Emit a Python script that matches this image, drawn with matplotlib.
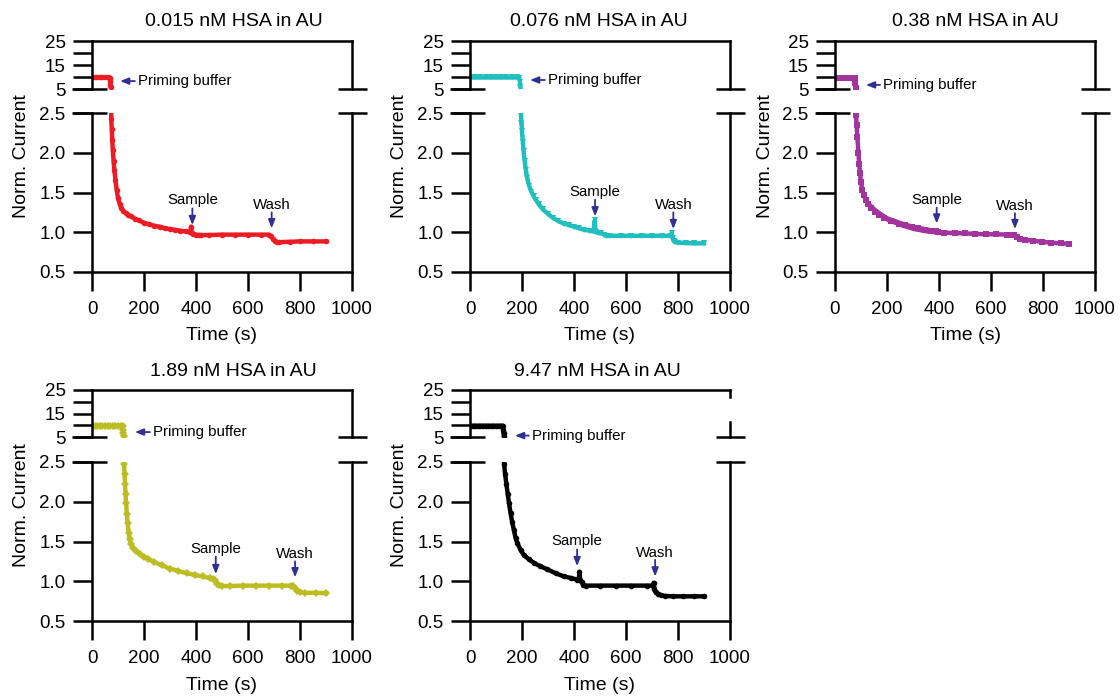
import matplotlib
matplotlib.use('Agg')
import matplotlib.pyplot as plt

plt.rcParams['font.family'] = ['Liberation Sans', 'DejaVu Sans']

# ---- data (time in s, normalised current) ----
titles = ['0.015 nM HSA in AU', '0.076 nM HSA in AU', '0.38 nM HSA in AU',
          '1.89 nM HSA in AU', '9.47 nM HSA in AU']
colors_ = ['#ec1c24', '#20bfbf', '#a3349e', '#bcbd22', '#000000']
markers = ['o', 'v', 's', 'D', 'o']

t_red = [0, 10, 20, 30, 40, 50, 60, 68, 70, 71, 72, 74, 76, 78, 80, 83, 86, 90, 95, 100,
         106, 112, 120, 130, 140, 150, 165, 180, 200, 220, 240, 260, 280, 300, 320, 340,
         360, 375, 379, 381, 383, 390, 400, 410, 420, 450, 500, 550, 600, 650, 680, 688,
         695, 702, 710, 720, 760, 800, 850, 900]
y_red = [9.8, 9.8, 9.9, 9.8, 9.8, 9.8, 9.8, 9.7, 8.2, 6.8, 5.7, 2.42, 2.30, 2.16, 2.03,
         1.90, 1.78, 1.66, 1.53, 1.43, 1.36, 1.31, 1.27, 1.24, 1.22, 1.20, 1.17, 1.15,
         1.12, 1.10, 1.08, 1.07, 1.05, 1.04, 1.03, 1.02, 1.01, 1.00, 1.00, 1.07, 0.99,
         0.98, 0.97, 0.965, 0.965, 0.965, 0.97, 0.97, 0.97, 0.97, 0.97, 0.95, 0.92, 0.89,
         0.875, 0.875, 0.88, 0.885, 0.885, 0.885]

t_cyan = [0, 20, 40, 60, 80, 100, 120, 140, 160, 180, 190, 192, 194, 196, 198, 200, 203,
          206, 210, 215, 220, 228, 236, 245, 255, 265, 280, 300, 320, 340, 360, 380, 400,
          420, 440, 460, 475, 480, 482, 486, 495, 505, 515, 525, 540, 580, 620, 660, 700,
          740, 772, 776, 779, 783, 790, 800, 830, 860, 900]
y_cyan = [9.8, 9.8, 9.8, 9.8, 9.8, 9.8, 9.8, 9.8, 9.8, 9.8, 9.7, 8.0, 6.0, 2.48, 2.38,
          2.27, 2.14, 2.02, 1.90, 1.78, 1.68, 1.58, 1.51, 1.45, 1.40, 1.35, 1.29, 1.23,
          1.18, 1.14, 1.11, 1.09, 1.07, 1.05, 1.03, 1.02, 1.01, 1.15, 1.01, 1.00, 0.99,
          0.99, 0.97, 0.955, 0.955, 0.955, 0.955, 0.955, 0.955, 0.955, 0.955, 0.99, 0.93,
          0.89, 0.875, 0.87, 0.865, 0.86, 0.86]

t_purple = [0, 10, 20, 30, 40, 50, 60, 70, 76, 78, 80, 81, 83, 86, 90, 93, 96, 100, 105,
            110, 118, 128, 140, 154, 170, 190, 215, 245, 270, 295, 320, 346, 370, 390, 396,
            420, 460, 500, 540, 580, 620, 660, 680, 690, 700, 712, 730, 760, 795, 830, 870,
            900]
y_purple = [9.6, 9.6, 9.6, 9.6, 9.6, 9.6, 9.6, 9.6, 9.6, 7.5, 5.6, 2.47, 2.35, 2.20, 2.00,
            1.86, 1.74, 1.63, 1.53, 1.47, 1.41, 1.36, 1.31, 1.26, 1.22, 1.18, 1.14, 1.11,
            1.09, 1.07, 1.05, 1.03, 1.02, 1.01, 1.00, 0.995, 0.99, 0.985, 0.98, 0.975,
            0.975, 0.97, 0.97, 0.96, 0.94, 0.915, 0.905, 0.895, 0.88, 0.87, 0.86, 0.855]
# noisy spread of the purple trace before the sample step
t_purple_band = [110, 130, 160, 200, 250, 300, 350, 380, 395]
lo_purple_band = [1.45, 1.33, 1.23, 1.14, 1.07, 1.02, 0.99, 0.98, 0.98]
hi_purple_band = [1.49, 1.39, 1.30, 1.21, 1.15, 1.10, 1.07, 1.05, 1.03]

t_yellow = [0, 10, 20, 30, 40, 50, 60, 70, 80, 90, 100, 110, 118, 120, 121, 122, 123, 125,
            127, 129, 131, 134, 137, 141, 145, 150, 158, 170, 185, 200, 217, 240, 268, 300,
            332, 365, 396, 425, 454, 465, 472, 480, 490, 500, 530, 580, 630, 680, 730, 765,
            772, 780, 790, 800, 820, 860, 900]
y_yellow = [9.7, 9.7, 9.7, 9.7, 9.7, 9.7, 9.7, 9.7, 9.7, 9.7, 9.7, 9.7, 9.7, 8.0, 6.5, 5.6,
            2.48, 2.35, 2.22, 2.10, 1.98, 1.85, 1.73, 1.61, 1.53, 1.47, 1.42, 1.38, 1.34,
            1.31, 1.28, 1.24, 1.20, 1.16, 1.13, 1.10, 1.08, 1.06, 1.04, 1.03, 1.01, 0.97,
            0.95, 0.94, 0.94, 0.945, 0.945, 0.945, 0.945, 0.945, 0.94, 0.91, 0.88, 0.86,
            0.855, 0.855, 0.85]

t_black = [0, 10, 20, 30, 40, 50, 60, 70, 80, 90, 100, 110, 120, 126, 128, 129, 130, 131,
           135, 140, 145, 150, 156, 162, 169, 175, 182, 195, 207, 225, 246, 270, 297, 330,
           361, 390, 412, 418, 421, 424, 430, 436, 445, 500, 560, 620, 680, 703, 706, 709,
           714, 722, 735, 750, 780, 820, 860, 900]
y_black = [9.8, 9.8, 9.8, 9.8, 9.8, 9.8, 9.8, 9.8, 9.8, 9.8, 9.8, 9.8, 9.8, 9.8, 8.0, 6.5,
           5.5, 2.48, 2.35, 2.22, 2.10, 1.98, 1.86, 1.75, 1.64, 1.55, 1.48, 1.39, 1.33,
           1.28, 1.23, 1.19, 1.15, 1.10, 1.06, 1.04, 1.02, 1.01, 1.12, 1.01, 0.99, 0.95,
           0.945, 0.945, 0.945, 0.945, 0.945, 0.945, 0.98, 0.90, 0.86, 0.84, 0.825, 0.815,
           0.81, 0.81, 0.81, 0.81]

series = [(t_red, y_red), (t_cyan, y_cyan), (t_purple, y_purple),
          (t_yellow, y_yellow), (t_black, y_black)]

# annotation anchors (data coords)
# priming: (arrow head t, y, text start t)
priming = [(108, 8.3, 177), (231, 8.75, 300), (119, 6.7, 185), (165, 7.1, 235), (173, 5.6, 238)]
# sample / wash: (t, arrow tip, arrow tail, text centre)
sample = [(386, 1.09, 1.30, 1.41), (481, 1.20, 1.41, 1.51), (391, 1.11, 1.31, 1.41),
          (476, 1.09, 1.31, 1.40), (412, 1.19, 1.40, 1.50)]
wash = [(691, 1.05, 1.25, 1.34), (782, 1.04, 1.25, 1.34), (692, 1.04, 1.24, 1.33),
        (781, 1.05, 1.25, 1.34), (712, 1.06, 1.27, 1.35)]

# ---- layout in pixels ----
W, H = 1120, 696
lefts = [92, 470, 835, 92, 470]
rows = [0, 0, 0, 1, 1]
top_ax = [(41, 89), (390, 437)]
bot_ax = [(113, 272), (462, 621)]
title_x = [234, 599, 975, 233, 597]
title_y = [22, 372]
xlab_y = [335, 685]
AW = 260

navy = '#2e3192'
LW = 1.8
arrow = dict(arrowstyle='-|>,head_length=0.5,head_width=0.2', color=navy, lw=1.3,
             mutation_scale=10, shrinkA=0, shrinkB=0)

fig = plt.figure(figsize=(W / 100, H / 100), dpi=100)


def box(l, t, b):
    return [l / W, 1 - b / H, AW / W, (b - t) / H]


def brk(ax, y):
    # short horizontal break markers crossing both side spines
    ax.plot([-0.077, 0.058], [y, y], transform=ax.transAxes, clip_on=False,
            color='k', lw=LW, solid_capstyle='butt')
    ax.plot([1 - 0.054, 1.058], [y, y], transform=ax.transAxes, clip_on=False,
            color='k', lw=LW, solid_capstyle='butt')


for i in range(5):
    l = lefts[i]
    r = rows[i]
    t, y = series[i]
    c = colors_[i]

    axt = fig.add_axes(box(l, *top_ax[r]))
    axb = fig.add_axes(box(l, *bot_ax[r]))

    for ax in (axt, axb):
        ax.plot(t, y, color=c, lw=3.2, marker=markers[i], ms=4, mew=0)
        ax.set_xlim(0, 1000)
        for s in ax.spines.values():
            s.set_linewidth(LW)
        ax.tick_params(direction='out', length=14, width=LW, labelsize=13.5, pad=5)
        ax.tick_params(which='minor', direction='out', length=14, width=LW)
    if i == 2:
        axb.fill_between(t_purple_band, lo_purple_band, hi_purple_band, color=c, lw=0)

    # top part 5..25
    axt.set_ylim(5, 25)
    axt.set_yticks([5, 15, 25])
    axt.set_yticks([10, 20], minor=True)
    axt.spines['bottom'].set_visible(False)
    axt.tick_params(axis='x', bottom=False, labelbottom=False)
    if i == 4:
        # right spine of the last panel is broken in the original
        axt.spines['right'].set_visible(False)
        axt.plot([1000, 1000], [25, 22], color='k', lw=LW, clip_on=False)
        axt.plot([1000, 1000], [11.5, 5], color='k', lw=LW, clip_on=False)
    brk(axt, 0)

    # bottom part 0.5..2.5
    axb.set_ylim(0.5, 2.5)
    axb.set_yticks([0.5, 1.0, 1.5, 2.0, 2.5])
    axb.set_yticklabels(['0.5', '1.0', '1.5', '2.0', '2.5'])
    axb.set_xticks([0, 200, 400, 600, 800, 1000])
    axb.tick_params(axis='x', pad=7)
    axb.spines['top'].set_visible(False)
    brk(axb, 1)

    # annotations
    ht, hy, tt = priming[i]
    axt.annotate('', xy=(ht, hy), xytext=(tt - 12, hy), arrowprops=arrow)
    axt.text(tt, hy, 'Priming buffer', fontsize=10.8, ha='left', va='center')
    for lab, (at, tip, tail, ty) in (('Sample', sample[i]), ('Wash', wash[i])):
        axb.annotate('', xy=(at, tip), xytext=(at, tail), arrowprops=arrow)
        axb.text(at, ty, lab, fontsize=10.8, ha='center', va='center')

    fig.text(title_x[i] / W, 1 - title_y[r] / H, titles[i], fontsize=14,
             ha='center', va='center')
    fig.text((l - 70) / W, 1 - (top_ax[r][0] + bot_ax[r][1]) / 2 / H, 'Norm. Current',
             rotation=90, fontsize=14, ha='center', va='center')
    fig.text((l + AW / 2) / W, 1 - xlab_y[r] / H, 'Time (s)', fontsize=14,
             ha='center', va='center')

fig.savefig('out.png', dpi=100)
